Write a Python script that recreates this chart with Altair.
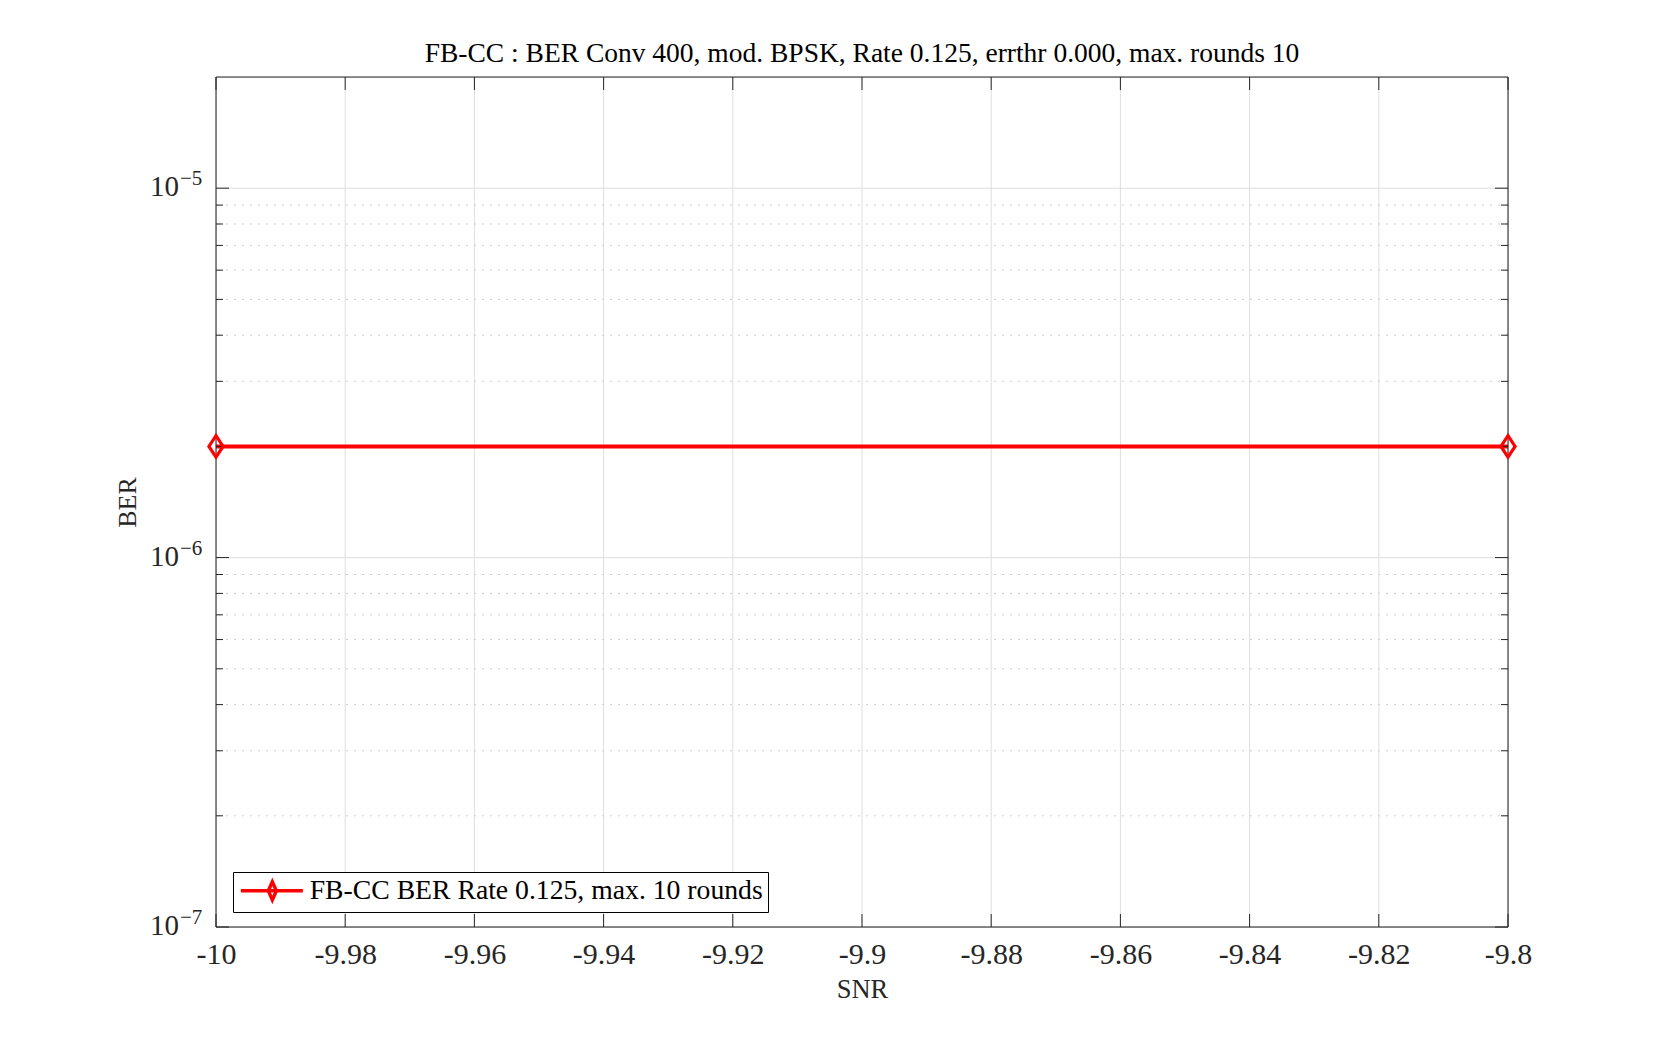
import altair as alt
import pandas as pd

# ---- data ----
snr = [-10.0, -9.8]
ber = [2e-6, 2e-6]
series_name = "FB-CC BER Rate 0.125, max. 10 rounds"

x_ticks = [-10.0, -9.98, -9.96, -9.94, -9.92, -9.9, -9.88, -9.86, -9.84, -9.82, -9.8]
y_major = [1e-7, 1e-6, 1e-5]
y_major_exp = ["\u22127", "\u22126", "\u22125"]
y_minor = [2e-7, 3e-7, 4e-7, 5e-7, 6e-7, 7e-7, 8e-7, 9e-7,
           2e-6, 3e-6, 4e-6, 5e-6, 6e-6, 7e-6, 8e-6, 9e-6]

title_text = "FB-CC : BER Conv 400, mod. BPSK, Rate 0.125, errthr 0.000, max. rounds 10"

W, H = 1292, 850
FONT = "Liberation Serif"
AX = "#262626"
GRID = "#dedede"

xdom = [-10.0, -9.8]
ydom = [1e-7, 2e-5]

xs = alt.Scale(domain=xdom, nice=False, zero=False)
ys = alt.Scale(type="log", domain=ydom, nice=False)

x_axis = alt.Axis(
    title="SNR", values=x_ticks, ticks=False, domain=False, grid=False,
    labelExpr="replace(format(datum.value, '.2~f'), '\u2212', '-')",
    labelFont=FONT, labelFontSize=30, labelColor=AX, labelPadding=12,
    labelFlush=False,
    titleFont=FONT, titleFontSize=26.5, titleFontWeight="normal", titleColor=AX,
    titleY=62, titleBaseline="middle")
y_axis = alt.Axis(
    title="BER", labels=False, ticks=False, domain=False, grid=False,
    titleFont=FONT, titleFontSize=26, titleFontWeight="normal", titleColor=AX,
    titleX=-89, titleY=H / 2, titleAngle=-90, titleBaseline="middle", titleAlign="center")

df_line = pd.DataFrame({"snr": snr, "ber": ber, "series": [series_name] * len(snr)})
df_xt = pd.DataFrame({"x": x_ticks})
df_ymaj = pd.DataFrame({"y": y_major, "exp": y_major_exp})
df_ymin = pd.DataFrame({"y": y_minor})
df_frame = pd.DataFrame({"k": [0]})


def X(f):
    return alt.X(f, scale=xs, axis=x_axis)


def Y(f):
    return alt.Y(f, scale=ys, axis=y_axis)


# grids
xgrid = alt.Chart(df_xt).mark_rule(color=GRID, strokeWidth=1).encode(x=X("x:Q"))
ygrid_major = alt.Chart(df_ymaj).mark_rule(color=GRID, strokeWidth=1).encode(y=Y("y:Q"))
ygrid_minor = alt.Chart(df_ymin).mark_rule(color="#cfcfcf", strokeWidth=1, strokeDash=[2, 6]).encode(y=Y("y:Q"))

# frame (box)
frame = alt.Chart(df_frame).mark_rect(fill=None, stroke=AX, strokeWidth=1).encode(
    x=alt.value(0), x2=alt.value(W), y=alt.value(0), y2=alt.value(H))

# ticks (inward, all four sides)
xt_bottom = alt.Chart(df_xt).mark_rule(color=AX, strokeWidth=1).encode(
    x=X("x:Q"), y=alt.value(H), y2=alt.value(H - 13))
xt_top = alt.Chart(df_xt).mark_rule(color=AX, strokeWidth=1).encode(
    x=X("x:Q"), y=alt.value(0), y2=alt.value(13))
yt_left_maj = alt.Chart(df_ymaj).mark_rule(color=AX, strokeWidth=1).encode(
    y=Y("y:Q"), x=alt.value(0), x2=alt.value(13))
yt_right_maj = alt.Chart(df_ymaj).mark_rule(color=AX, strokeWidth=1).encode(
    y=Y("y:Q"), x=alt.value(W), x2=alt.value(W - 13))
yt_left_min = alt.Chart(df_ymin).mark_rule(color=AX, strokeWidth=1).encode(
    y=Y("y:Q"), x=alt.value(0), x2=alt.value(7))
yt_right_min = alt.Chart(df_ymin).mark_rule(color=AX, strokeWidth=1).encode(
    y=Y("y:Q"), x=alt.value(W), x2=alt.value(W - 7))

# y labels as 10^n
ylab_base = alt.Chart(df_ymaj).mark_text(
    font=FONT, fontSize=29, color=AX, align="right", baseline="alphabetic", dy=8
).encode(y=Y("y:Q"), x=alt.value(-37), text=alt.value("10"))
ylab_exp = alt.Chart(df_ymaj).mark_text(
    font=FONT, fontSize=21, color=AX, align="left", baseline="alphabetic", dy=-3
).encode(y=Y("y:Q"), x=alt.value(-36), text="exp:N")

# data line
line = alt.Chart(df_line).mark_line(strokeWidth=4).encode(
    x=X("snr:Q"),
    y=Y("ber:Q"),
    color=alt.Color("series:N", scale=alt.Scale(domain=[series_name], range=["#ff0000"]),
                    legend=alt.Legend(
                        title=None, orient="none", legendX=17, legendY=795,
                        symbolType="M-1.1,0L5.1,0M2.05,-0.9L2.45,0L2.05,0.9L1.65,0Z",
                        symbolSize=400, symbolStrokeWidth=3.5, symbolFillColor="transparent",
                        symbolStrokeColor="#ff0000",
                        labelFont=FONT, labelFontSize=27.7, labelColor="#000000",
                        labelLimit=0,
                        labelOffset=44, padding=5,
                        strokeColor="#000000", fillColor="#ffffff")),
)
pts = alt.Chart(df_line).mark_point(
    shape="M0,-1L0.66,0L0,1L-0.66,0Z", size=460, filled=False,
    stroke="#ff0000", strokeWidth=3.2, fill="#ffffff", fillOpacity=0, opacity=1
).encode(x=X("snr:Q"), y=Y("ber:Q"))

chart = alt.layer(
    xgrid, ygrid_major, ygrid_minor, line,
    xt_bottom, xt_top, yt_left_maj, yt_right_maj, yt_left_min, yt_right_min,
    frame, pts,
    ylab_base, ylab_exp,
).properties(
    width=W, height=H,
    title=alt.TitleParams(title_text, font=FONT, fontSize=27.5, fontWeight="normal",
                          color="#000000", offset=9, anchor="middle"),
    autosize=alt.AutoSizeParams(type="none"),
    padding={"left": 208, "top": 69, "right": 140, "bottom": 100},
).configure_view(
    stroke=None
).configure(background="#ffffff")

chart.save("out.html", embed_options={"renderer": "svg", "actions": False})
